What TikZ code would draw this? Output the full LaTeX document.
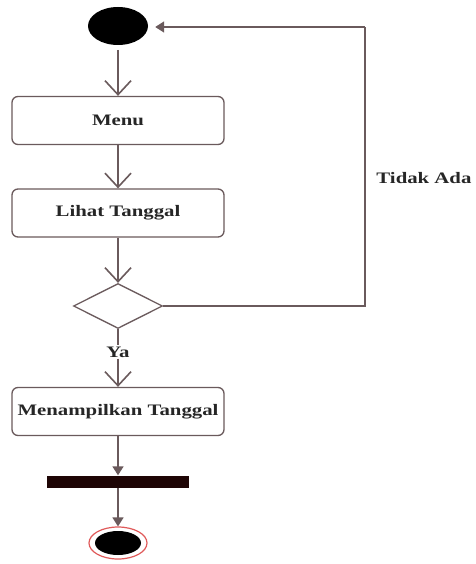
\documentclass[tikz,border=0pt]{standalone}
\usepackage{fontspec}
\setmainfont{Liberation Serif}
\usetikzlibrary{arrows.meta,shapes.geometric}
\definecolor{ln}{HTML}{6A5A5C}
\definecolor{barc}{HTML}{1E0505}
\definecolor{ring}{HTML}{E05A5A}
\tikzset{
  lbl/.style={font=\fontsize{16}{16}\selectfont\bfseries, text=black!85},
  actbox/.style={draw=ln, line width=1.3pt, rounded corners=6pt, minimum width=212pt, minimum height=48pt, inner sep=0pt, fill=white},
  flow/.style={draw=ln, line width=1.6pt, -{Straight Barb[length=14pt,width=26pt,line width=1.6pt]}},
  flowt/.style={draw=ln, line width=1.6pt, -{Triangle[length=9pt,width=11pt]}},
  plain/.style={draw=ln, line width=1.6pt},
}
\newcommand{\sx}[1]{\scalebox{1.3}[1]{#1}}
\begin{document}
\begin{tikzpicture}[x=1pt,y=-1pt]
\useasboundingbox[fill=white] (0,0) rectangle (475,564);
\node[ellipse, fill=black, minimum width=60pt, minimum height=38pt, inner sep=0pt] (start) at (118,26) {};
\node[actbox] (menu) at (118,120.5) {};
\node[lbl] (menut) at (menu.center) {\sx{Menu}};
\node[actbox] (lihat) at (118,213) {};
\node[lbl] (lihatt) at (lihat.center) {\sx{Lihat Tanggal}};
\node[diamond, draw=ln, line width=1.3pt, minimum width=89pt, minimum height=45pt, inner sep=0pt] (dec) at (118,306) {};
\node[lbl, inner sep=1pt] (ya) at (118,352) {\sx{Ya}};
\node[actbox] (tampil) at (118,411.5) {};
\node[lbl] (tampilt) at (tampil.center) {\sx{Menampilkan Tanggal}};
\node[rectangle, fill=barc, minimum width=142pt, minimum height=12pt, inner sep=0pt] (bar) at (118,481.5) {};
\node[ellipse, draw=ring, line width=1.2pt, fill=white, minimum width=58pt, minimum height=32pt, inner sep=0pt] (end) at (118,543) {};
\fill[black] (end.center) ellipse [x radius=23, y radius=12];
\node[lbl, anchor=east] (tidak) at (475,178) {\sx{Tidak Ada}};
\coordinate (c1) at (365,306);
\coordinate (c2) at (365,27);
\coordinate (s2) at (118,50);
\draw[flow] (s2) -- (menu);
\draw[flow] (menu) -- (lihat);
\draw[flow] (lihat) -- (dec);
\draw[plain] (dec.south) -- (ya);
\draw[flow] (ya) -- (tampil);
\draw[flowt] (tampil) -- (bar);
\draw[flowt] (bar) -- (end);
\draw[plain] (dec.east) -- (c1) -- (c2);
\draw[flowt, shorten >=7pt] (c2) -- (start.east |- c2);
\end{tikzpicture}
\end{document}
